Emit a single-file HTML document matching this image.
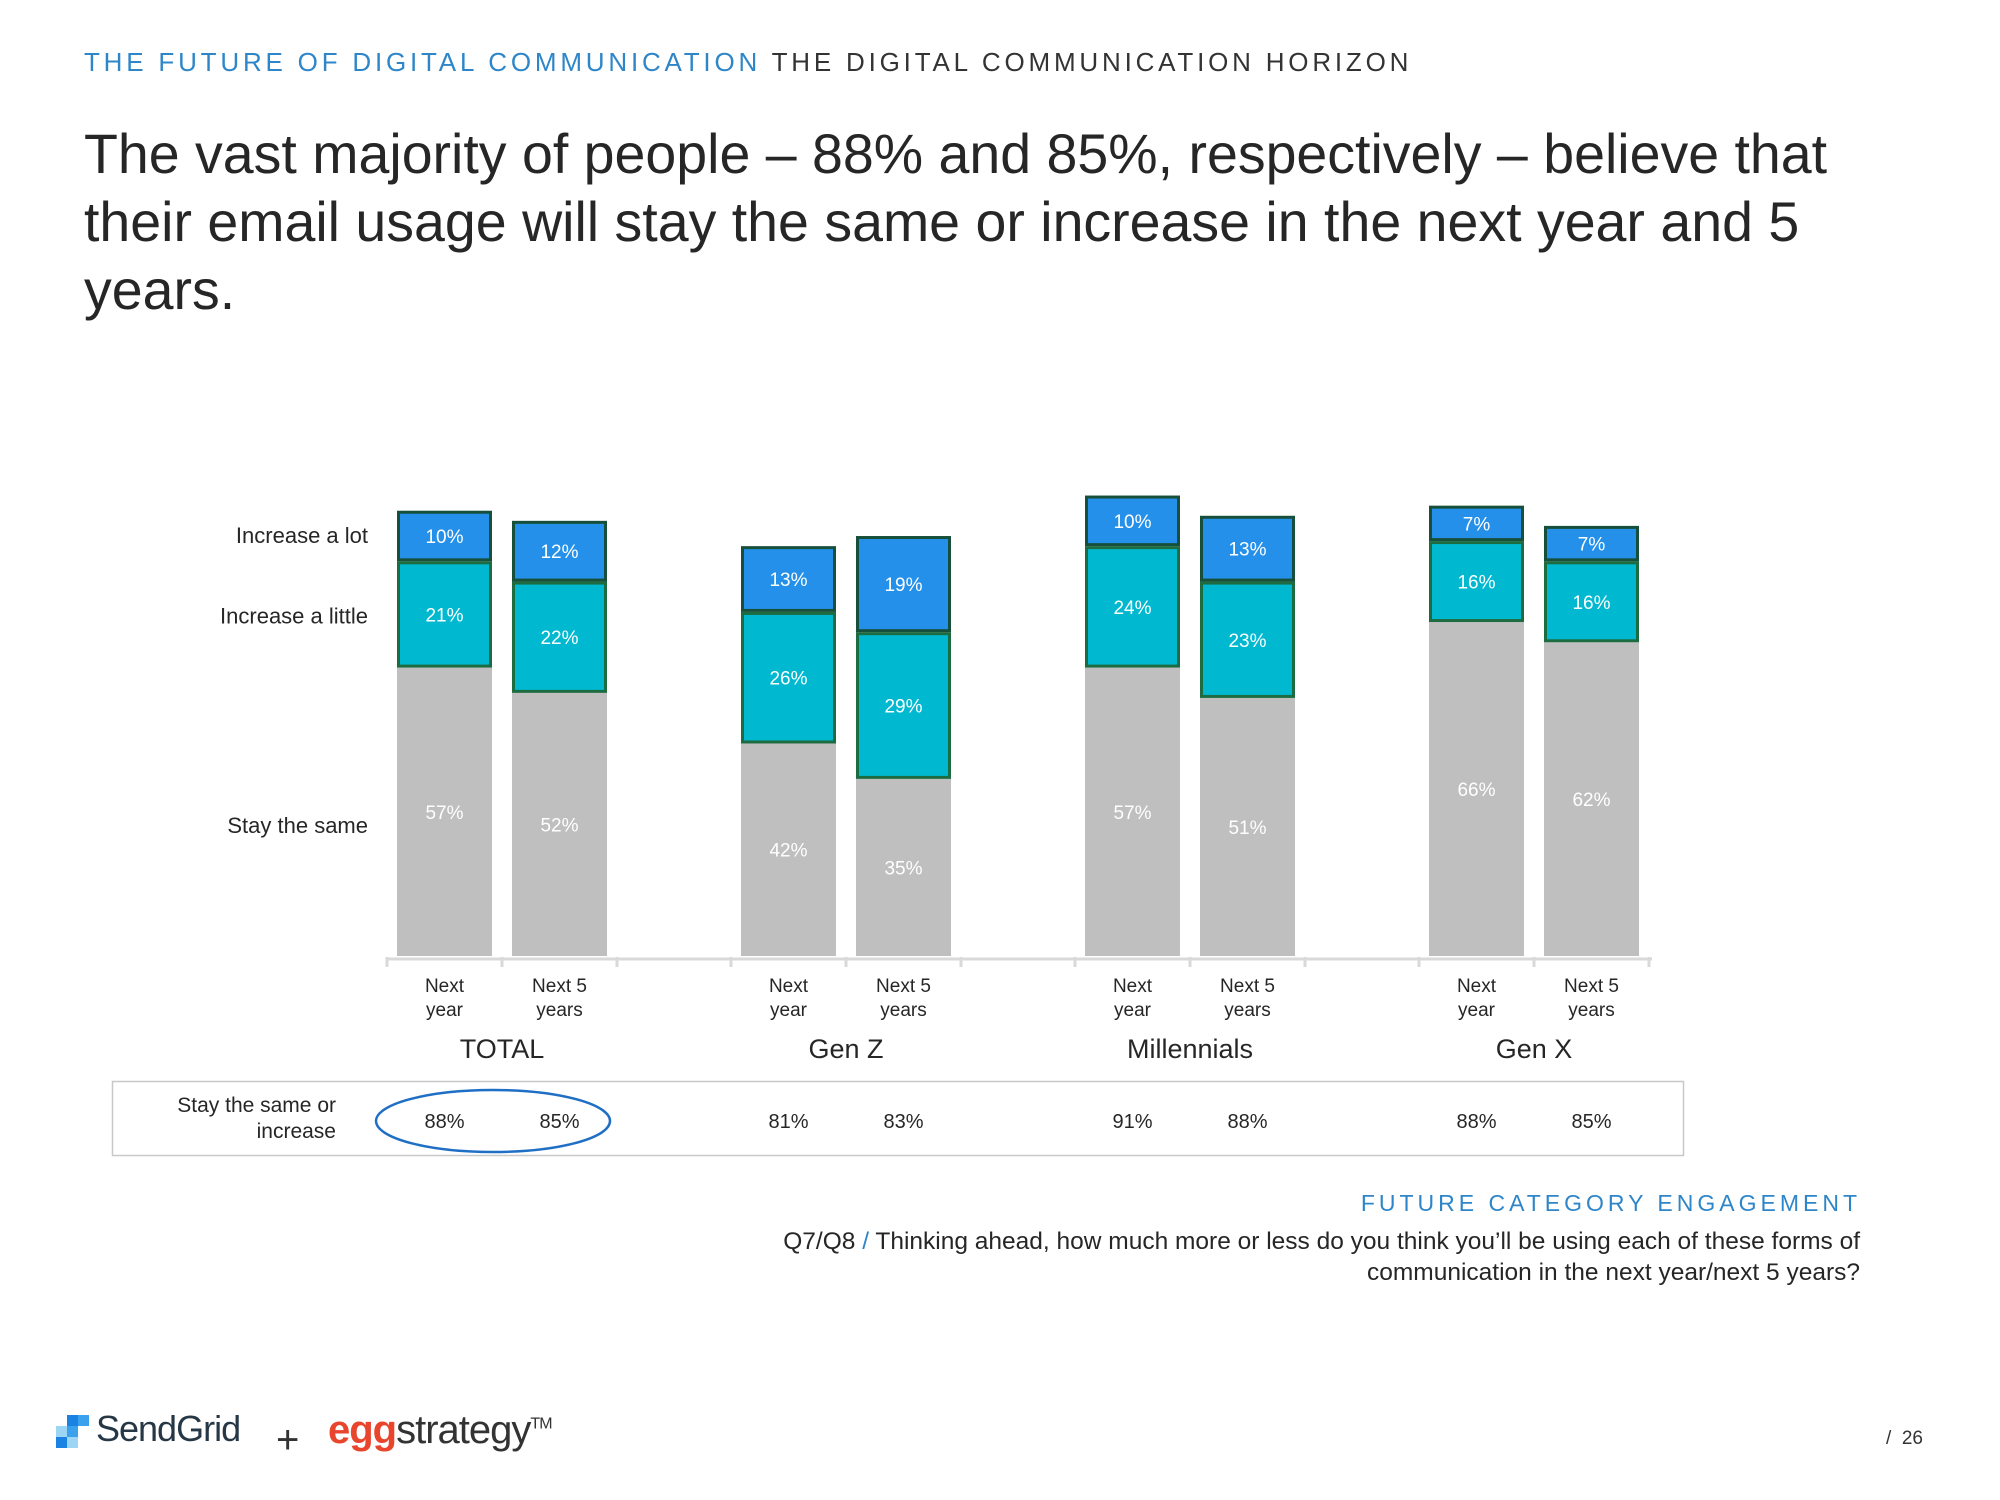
<!DOCTYPE html>
<html><head><meta charset="utf-8"><style>
body{margin:0;background:#fff;font-family:"Liberation Sans",sans-serif;}
#wrap{position:relative;width:2000px;height:1500px;overflow:hidden;}
.t{position:absolute;white-space:nowrap;}
</style></head><body>
<div id="wrap">
<div class="t" style="left:84px;top:47px;font-size:26px;letter-spacing:3.8px;color:#2e86c8;">THE FUTURE OF DIGITAL COMMUNICATION <span style="color:#333">THE DIGITAL COMMUNICATION HORIZON</span></div>
<div class="t" style="left:84px;top:120px;font-size:55.5px;line-height:68px;color:#262626;white-space:normal;width:1800px;">The vast majority of people – 88% and 85%, respectively – believe that<br>their email usage will stay the same or increase in the next year and 5<br>years.</div>
<svg id="chart" width="2000" height="1500" style="position:absolute;left:0;top:0" font-family="Liberation Sans, sans-serif"></svg>
<div class="t" style="right:139px;top:1190px;font-size:23px;letter-spacing:4px;color:#2e86c8;">FUTURE CATEGORY ENGAGEMENT</div>
<div class="t" style="right:140px;top:1226px;font-size:24.5px;line-height:31px;color:#262626;text-align:right;">Q7/Q8 <span style="color:#2e86c8">/</span> Thinking ahead, how much more or less do you think you’ll be using each of these forms of<br>communication in the next year/next 5 years?</div>
<div style="position:absolute;left:56px;top:1412px;">
 <div style="position:absolute;left:0;top:14px;width:11px;height:11px;background:#9dd6f5"></div>
 <div style="position:absolute;left:0;top:25px;width:11px;height:11px;background:#1a82e2"></div>
 <div style="position:absolute;left:11px;top:3px;width:11px;height:11px;background:#1a82e2"></div>
 <div style="position:absolute;left:11px;top:14px;width:11px;height:11px;background:#3aa2ec"></div>
 <div style="position:absolute;left:11px;top:25px;width:11px;height:11px;background:#9dd6f5"></div>
 <div style="position:absolute;left:22px;top:3px;width:11px;height:11px;background:#3aa2ec"></div>
 <div class="t" style="left:40px;top:-4px;font-size:36px;color:#263746;letter-spacing:-1px">SendGrid</div>
</div>
<div class="t" style="left:276px;top:1418px;font-size:40px;color:#333">+</div>
<div class="t" style="left:328px;top:1408px;font-size:40px;color:#333;letter-spacing:-1px"><b style="color:#e8452c">egg</b>strategy<sup style="font-size:16px">TM</sup></div>
<div class="t" style="left:1886px;top:1428px;font-size:19px;color:#333">/&nbsp;&nbsp;26</div>
</div>
<script>
const groups=["TOTAL","Gen Z","Millennials","Gen X"];
const periods=["Next\nyear","Next 5\nyears"];
const staySame=[57,52,42,35,57,51,66,62];
const incLittle=[21,22,26,29,24,23,16,16];
const incLot=[10,12,13,19,10,13,7,7];
const summary=[88,85,81,83,91,88,88,85];
const legendLabels=["Increase a lot","Increase a little","Stay the same"];

const svg=document.getElementById('chart');
const NS="http://www.w3.org/2000/svg";
const base=956, pxPer=5.06, bw=95;
function y(v){return base-v*pxPer;}
function xBar(i){return 397+Math.floor(i/2)*344+(i%2)*115;}
function mk(tag,attrs,txt){const e=document.createElementNS(NS,tag);for(const k in attrs)e.setAttribute(k,attrs[k]);if(txt!==undefined)e.textContent=txt;svg.appendChild(e);return e;}

let ax=mk('path',{d:'M388 959H1652',stroke:'#d9d9d9','stroke-width':3,fill:'none'});


for(let i=0;i<8;i++){
  [xBar(i)-10,xBar(i)+bw+10].forEach(tx=>{const t=mk('line',{x1:tx,x2:tx,y1:957,y2:967,stroke:'#d9d9d9','stroke-width':3});
  
  });
}
for(let i=0;i<8;i++){
  const x=xBar(i);
  const s=staySame[i],l=incLittle[i],o=incLot[i];
  const r1=mk('rect',{x:x,y:y(s),width:bw,height:s*pxPer,fill:'#bfbfbf'});
  
  
  const r2=mk('rect',{x:x+1.5,y:y(s+l)+1.5,width:bw-3,height:l*pxPer-3,fill:'#00b9d0',stroke:'#1d6b40','stroke-width':3});
  
  
  const r3=mk('rect',{x:x+1.5,y:y(s+l+o)+1.5,width:bw-3,height:o*pxPer-3,fill:'#2490ea',stroke:'#17503a','stroke-width':3});
  
  
  [[s,0],[l,s],[o,s+l]].forEach(([v,b])=>{
    const t=mk('text',{x:x+bw/2,y:y(b+v/2)+7,'text-anchor':'middle','font-size':19,fill:'#fff'},v+'%');
    
    
  });
  periods[i%2].split('\n').forEach((ln,k)=>{
    const t=mk('text',{x:x+bw/2,y:992+k*24,'text-anchor':'middle','font-size':19,fill:'#262626'},ln);
    
    
  });
  const sv=mk('text',{x:x+bw/2,y:1128,'text-anchor':'middle','font-size':20,fill:'#262626'},summary[i]+'%');
  
  
}
groups.forEach((g,j)=>{
  const t=mk('text',{x:xBar(j*2)+bw+10,y:1058,'text-anchor':'middle','font-size':27,fill:'#262626'},g);
  
  
});
const ly=[y(staySame[0]+incLittle[0]+incLot[0]/2),y(staySame[0]+incLittle[0]/2)+2,y(staySame[0]/2)+14];
legendLabels.forEach((l,k)=>{
  const t=mk('text',{x:368,y:ly[k]+7,'text-anchor':'end','font-size':22,fill:'#262626'},l);
  
  
});
const box=mk('rect',{x:112.5,y:1081.5,width:1571,height:74,fill:'none',stroke:'#c8c8c8','stroke-width':1.5});


['Stay the same or','increase'].forEach((ln,k)=>{
  const t=mk('text',{x:336,y:1112+k*26,'text-anchor':'end','font-size':21,fill:'#262626'},ln);
  
  
});
const el=mk('ellipse',{cx:493,cy:1121,rx:117,ry:31,fill:'none',stroke:'#1f6fc5','stroke-width':2.5});


</script>
</body></html>
